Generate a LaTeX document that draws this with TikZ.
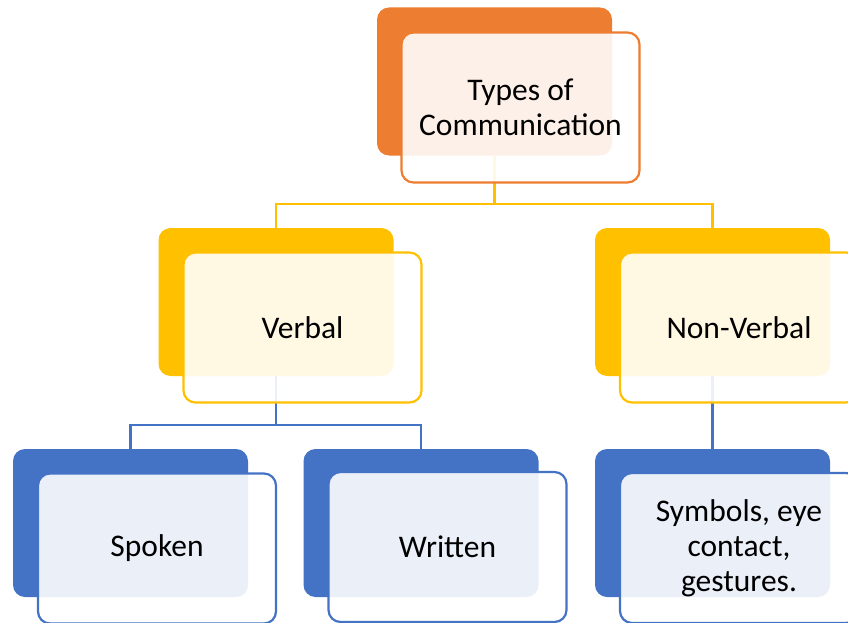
\documentclass[tikz,border=0pt]{standalone}
\usepackage{fontspec}
\setmainfont{Carlito}
\definecolor{orng}{RGB}{237,125,49}
\definecolor{yllw}{RGB}{255,192,0}
\definecolor{blu}{RGB}{68,114,196}
\tikzset{
  backbox/.style={fill=#1, rounded corners=12pt, minimum width=235pt, minimum height=148pt, inner sep=0pt},
  frontbox/.style={draw=#1, line width=2.2pt, fill=white, fill opacity=0.89, text opacity=1, rounded corners=12pt,
    minimum width=238pt, minimum height=150pt, inner sep=0pt, align=center, font=\fontsize{31.5}{35}\selectfont},
  link/.style={draw=#1, line width=2.2pt}
}
\begin{document}
\begin{tikzpicture}[x=1pt, y=-1pt]
        \useasboundingbox (0,0) rectangle (848,623);

        % back boxes
        \node[backbox=orng] (tback) at (494.5,81.5) {};
        \node[backbox=yllw] (vback) at (276,302) {};
        \node[backbox=yllw] (nback) at (712.5,302) {};
        \node[backbox=blu] (sback) at (130.5,523) {};
        \node[backbox=blu] (wback) at (421,523) {};
        \node[backbox=blu] (yback) at (712.5,523) {};

        % connectors
        \coordinate (ybus) at (494.5,204);
        \coordinate (bbus) at (276,425);
        \draw[link=yllw] (tback.south) -- (ybus) -| (vback.north);
        \draw[link=yllw] (ybus) -| (nback.north);
        \draw[link=blu] (vback.south) -- (bbus) -| (sback.north);
        \draw[link=blu] (bbus) -| (wback.north);
        \draw[link=blu] (nback.south) -- (yback.north);

        % front boxes
        \node[frontbox=orng] (types) at (520.5,107.5) {Types of\\Communication};
        \node[frontbox=yllw] (verbal) at (302.5,327.5) {Verbal};
        \node[frontbox=yllw] (nonverbal) at (739,327.5) {Non-Verbal};
        \node[frontbox=blu] (spoken) at (157,548.5) {Spoken};
        \node[frontbox=blu] (written) at (447.5,547) {Written};
        \node[frontbox=blu] (symbols) at (739,548) {Symbols, eye\\contact,\\gestures.};
\end{tikzpicture}
\end{document}
